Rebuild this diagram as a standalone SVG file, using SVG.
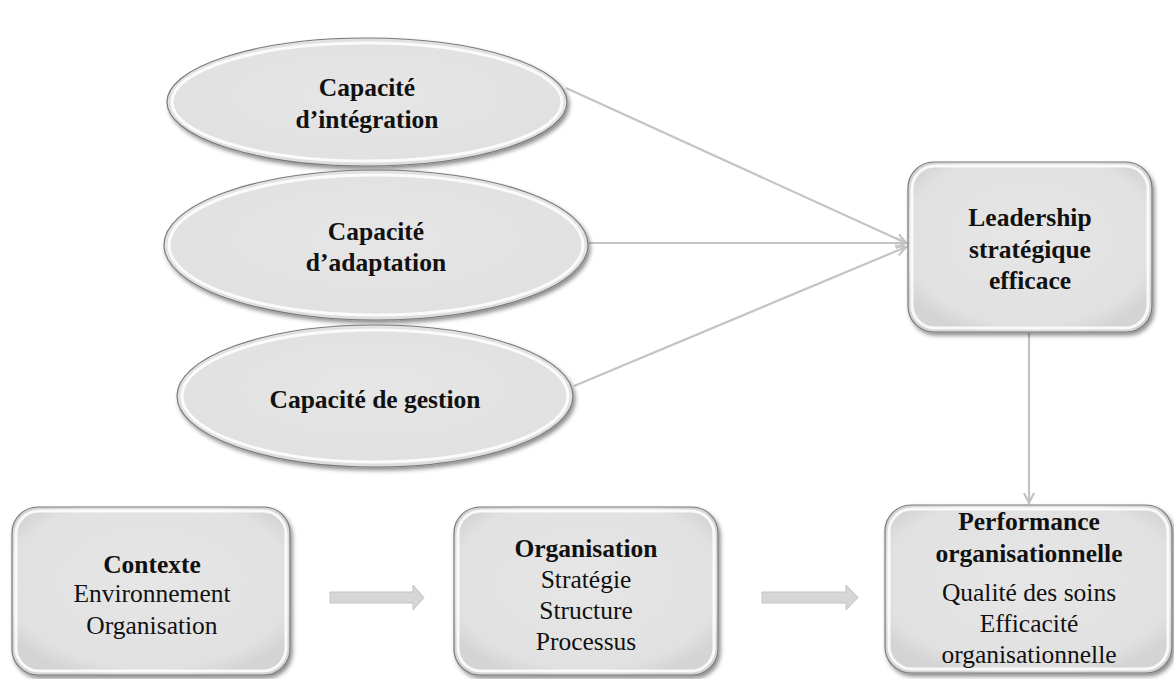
<svg xmlns="http://www.w3.org/2000/svg" width="1174" height="679" viewBox="0 0 1174 679">
<defs>
<style>
.t{font-family:"Liberation Serif","DejaVu Serif",serif;font-size:25.5px;fill:#111;text-anchor:middle}
.b{font-weight:bold}
.shape{fill:url(#g);stroke:#7a7a7a;stroke-width:1.2;filter:url(#sh)}
.rim{fill:none;stroke:#ffffff;stroke-width:3;opacity:0.85}
.conn{stroke:#c4c4c4;stroke-width:2.2;fill:none}
.blk{fill:#d6d6d6;stroke:#c2c2c2;stroke-width:1}
</style>
<radialGradient id="g" cx="0.5" cy="0.45" r="0.6">
<stop offset="0" stop-color="#e6e6e6"/>
<stop offset="0.85" stop-color="#e1e1e1"/>
<stop offset="1" stop-color="#d4d4d4"/>
</radialGradient>
<filter id="sh" x="-10%" y="-10%" width="125%" height="130%">
<feDropShadow dx="2" dy="3" stdDeviation="2" flood-color="#000" flood-opacity="0.45"/>
</filter>
<marker id="ah" markerWidth="12" markerHeight="12" refX="10" refY="6" orient="auto" markerUnits="userSpaceOnUse">
<path d="M0,1 L10,6 L0,11" fill="none" stroke="#c4c4c4" stroke-width="2.2"/>
</marker>
</defs>

<g id="connectors">
<line class="conn" x1="566" y1="88" x2="906" y2="243" marker-end="url(#ah)"/>
<line class="conn" x1="589" y1="243" x2="906" y2="243" marker-end="url(#ah)"/>
<line class="conn" x1="574" y1="386" x2="906" y2="247" marker-end="url(#ah)"/>
<line class="conn" x1="1029" y1="333" x2="1029" y2="503" marker-end="url(#ah)"/>
<path class="blk" d="M330,592 L413,592 L413,585 L424,597.5 L413,610 L413,603 L330,603 Z"/>
<path class="blk" d="M762,592 L846,592 L846,585 L858,597.5 L846,610 L846,603 L762,603 Z"/>
</g>

<g id="capacite-integration">
<ellipse class="shape" cx="367" cy="102" rx="200" ry="64"/>
<ellipse class="rim" cx="367" cy="102" rx="195" ry="59"/>
<text class="t b" x="367" y="96">Capacité</text>
<text class="t b" x="367" y="128">d’intégration</text>
</g>

<g id="capacite-adaptation">
<ellipse class="shape" cx="376" cy="245" rx="212" ry="75"/>
<ellipse class="rim" cx="376" cy="245" rx="207" ry="70"/>
<text class="t b" x="376" y="240">Capacité</text>
<text class="t b" x="376" y="271">d’adaptation</text>
</g>

<g id="capacite-gestion">
<ellipse class="shape" cx="375" cy="396" rx="198" ry="71"/>
<ellipse class="rim" cx="375" cy="396" rx="193" ry="66"/>
<text class="t b" x="375" y="408">Capacité de gestion</text>
</g>

<g id="leadership">
<rect class="shape" x="908" y="162" width="244" height="170" rx="26"/>
<rect class="rim" x="912" y="166" width="236" height="162" rx="23"/>
<text class="t b" x="1030" y="226">Leadership</text>
<text class="t b" x="1030" y="258">stratégique</text>
<text class="t b" x="1030" y="289">efficace</text>
</g>

<g id="contexte">
<rect class="shape" x="12" y="507" width="278" height="168" rx="26"/>
<rect class="rim" x="16" y="511" width="270" height="160" rx="23"/>
<text class="t b" x="152" y="573">Contexte</text>
<text class="t" x="152" y="602">Environnement</text>
<text class="t" x="152" y="634">Organisation</text>
</g>

<g id="organisation">
<rect class="shape" x="454" y="507" width="264" height="168" rx="26"/>
<rect class="rim" x="458" y="511" width="256" height="160" rx="23"/>
<text class="t b" x="586" y="557">Organisation</text>
<text class="t" x="586" y="588">Stratégie</text>
<text class="t" x="586" y="619">Structure</text>
<text class="t" x="586" y="650">Processus</text>
</g>

<g id="performance">
<rect class="shape" x="885" y="505" width="287" height="168" rx="26"/>
<rect class="rim" x="889" y="509" width="279" height="160" rx="23"/>
<text class="t b" x="1029" y="530">Performance</text>
<text class="t b" x="1029" y="562">organisationnelle</text>
<text class="t" x="1029" y="601">Qualité des soins</text>
<text class="t" x="1029" y="632">Efficacité</text>
<text class="t" x="1029" y="663">organisationnelle</text>
</g>
</svg>
